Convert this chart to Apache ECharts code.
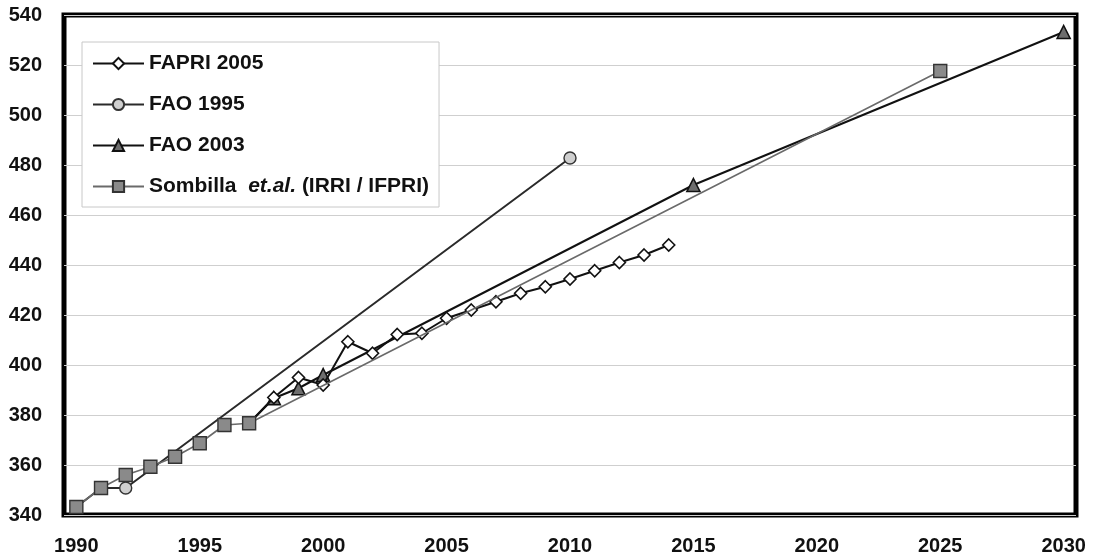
<!DOCTYPE html>
<html>
<head>
<meta charset="utf-8">
<script src="https://cdn.jsdelivr.net/npm/echarts@6/dist/echarts.min.js"></script>
<style>
html,body{margin:0;padding:0;background:#fff;}
#chart{width:1095px;height:557px;}
</style>
</head>
<body>
<div id="chart"></div>
<script>
// ---- data ----
var xTickLabels = [1990, 1995, 2000, 2005, 2010, 2015, 2020, 2025, 2030];

var fapriYears  = [1997, 1998, 1999, 2000, 2001, 2002, 2003, 2004, 2005, 2006, 2007, 2008, 2009, 2010, 2011, 2012, 2013, 2014];
var fapriValues = [376.7, 387, 395, 392, 409.3, 404.7, 412.2, 412.7, 418.7, 422, 425.3, 428.7, 431.3, 434.4, 437.7, 441, 444, 448];

var fao1995Years  = [1990, 1991, 1992, 2010];
var fao1995Values = [343.2, 350.8, 350.8, 482.8];

var fao2003Years  = [1997, 1998, 1999, 2000, 2015, 2030];
var fao2003Values = [376.7, 386.7, 390.7, 396, 472, 533.2];

var sombillaYears  = [1990, 1991, 1992, 1993, 1994, 1995, 1996, 1997, 2025];
var sombillaValues = [343.2, 350.8, 356, 359.3, 363.3, 368.7, 376, 376.7, 517.6];

var seriesNames = ['FAPRI 2005', 'FAO 1995', 'FAO 2003', 'Sombilla et.al. (IRRI / IFPRI)'];

function pairs(xs, ys) { return xs.map(function (x, i) { return [x, ys[i]]; }); }
function sizeFrom(firstShown, size) {
  return function (val, params) { return params.dataIndex >= firstShown ? size : 0; };
}

var chart = echarts.init(document.getElementById('chart'));
var font = 'Liberation Sans, Arial, sans-serif';

chart.setOption({
  animation: false,
  backgroundColor: '#fff',
  grid: {
    left: 64, right: 19, top: 15, bottom: 42,
    show: true, borderColor: '#000', borderWidth: 5, backgroundColor: 'transparent'
  },
  xAxis: {
    type: 'value', min: 1989.5, max: 2030.5,
    axisLine: { show: false },
    axisTick: { show: false },
    splitLine: { show: false },
    axisLabel: {
      customValues: xTickLabels,
      formatter: function (v) { return String(v); },
      margin: 21,
      fontFamily: font, fontSize: 20, fontWeight: 'bold', color: '#111'
    }
  },
  yAxis: {
    type: 'value', min: 340, max: 540, interval: 20,
    axisLine: { show: false },
    axisTick: { show: false },
    splitLine: { show: true, lineStyle: { color: '#cfcfcf', width: 1 } },
    axisLabel: {
      margin: 22,
      fontFamily: font, fontSize: 20, fontWeight: 'bold', color: '#111'
    }
  },
  legend: {
    orient: 'vertical',
    left: 82, top: 42,
    padding: [11, 10, 10, 10],
    itemGap: 20,
    itemWidth: 51, itemHeight: 14,
    backgroundColor: '#fff',
    borderColor: '#c8c8c8', borderWidth: 1,
    data: seriesNames,
    formatter: function (name) {
      return name.replace('Sombilla et.al.', 'Sombilla  {i|et.al.}');
    },
    textStyle: {
      fontFamily: font, fontSize: 21, fontWeight: 'bold', color: '#111',
      rich: {
        i: { fontFamily: font, fontSize: 21, fontWeight: 'bold', fontStyle: 'italic', color: '#111' }
      }
    }
  },
  series: [
    {
      name: seriesNames[0], type: 'line', z: 4,
      data: pairs(fapriYears, fapriValues),
      symbol: 'diamond', symbolSize: sizeFrom(1, 12),
      lineStyle: { color: '#111', width: 2 },
      itemStyle: { color: '#fff', borderColor: '#111', borderWidth: 1.6 }
    },
    {
      name: seriesNames[1], type: 'line', z: 3,
      data: pairs(fao1995Years, fao1995Values),
      symbol: 'circle', symbolSize: sizeFrom(2, 12),
      lineStyle: { color: '#2a2a2a', width: 2 },
      itemStyle: { color: '#cfcfcf', borderColor: '#333', borderWidth: 1.4 }
    },
    {
      name: seriesNames[2], type: 'line', z: 3,
      data: pairs(fao2003Years, fao2003Values),
      symbol: 'triangle', symbolSize: sizeFrom(1, 13),
      lineStyle: { color: '#111', width: 2 },
      itemStyle: { color: '#6e6e6e', borderColor: '#111', borderWidth: 1.6 }
    },
    {
      name: seriesNames[3], type: 'line', z: 5,
      data: pairs(sombillaYears, sombillaValues),
      symbol: 'rect', symbolSize: 13,
      lineStyle: { color: '#6a6a6a', width: 1.6 },
      itemStyle: { color: '#8a8a8a', borderColor: '#333', borderWidth: 1.4 }
    }
  ]
});
</script>
</body>
</html>
